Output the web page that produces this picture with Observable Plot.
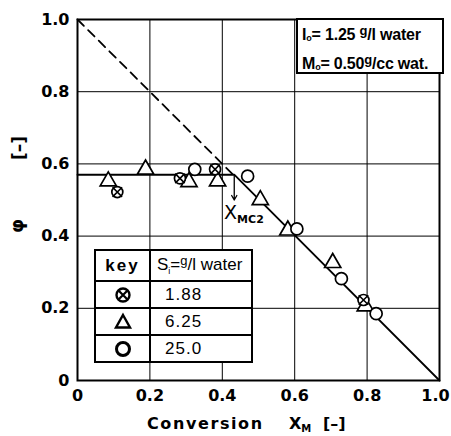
<!DOCTYPE html>
<html>
<head>
<meta charset="utf-8">
<script src="https://cdn.jsdelivr.net/npm/d3@7"></script>
<script src="https://cdn.jsdelivr.net/npm/@observablehq/plot@0.6"></script>
<style>
  body { margin: 0; background: white; }
  #wrap { position: relative; width: 451px; height: 436px; font-family: "DejaVu Sans", sans-serif; }
  .box { position: absolute; background: white; border: 2px solid black; box-sizing: border-box; color: black; }
  #note { left: 296px; top: 18px; width: 148px; height: 56px; font-family: "Liberation Sans", sans-serif; font-weight: bold; font-size: 16px; line-height: 25px; padding: 2px 0 0 4px; letter-spacing: -0.2px; white-space: nowrap; }
  #note sub { font-size: 9px; vertical-align: -1px; }
  #note sup { font-size: 13px; vertical-align: 5px; line-height: 0; }
  #legend { left: 94px; top: 249px; width: 159px; height: 114px; }
  #legend table { border-collapse: collapse; width: 100%; height: 100%; font-family: "Liberation Sans", sans-serif; font-size: 17px; }
  #legend td { border: 2px solid black; padding: 0; white-space: nowrap; }
  #legend tr:first-child td { border-top: none; }
  #legend tr:last-child td { border-bottom: none; }
  #legend td:first-child { border-left: none; width: 53px; text-align: center; }
  #legend td:last-child { border-right: none; padding-left: 6px; }
  #legend .val { padding-left: 14px !important; letter-spacing: 1px; }
  #legend sub { font-size: 9px; }
  #legend sup { font-size: 13px; vertical-align: 5px; line-height: 0; }
</style>
</head>
<body>
<div id="wrap"></div>
<script>
// ---- data ----
const xTicks = [0, 0.2, 0.4, 0.6, 0.8, 1.0];
const yTicks = [0, 0.2, 0.4, 0.6, 0.8, 1.0];
const keyLabels = ["1.88", "6.25", "25.0"];

// S_i = 1.88 g/l water  (circle with cross)
const xS1 = [0.11, 0.283, 0.38, 0.79];
const phiS1 = [0.522, 0.56, 0.585, 0.223];
// S_i = 6.25 g/l water  (triangle)
const xS2 = [0.085, 0.188, 0.308, 0.387, 0.505, 0.581, 0.705, 0.795];
const phiS2 = [0.552, 0.585, 0.55, 0.552, 0.5, 0.416, 0.326, 0.206];
// S_i = 25.0 g/l water  (open circle)
const xS3 = [0.324, 0.47, 0.606, 0.729, 0.825];
const phiS3 = [0.585, 0.566, 0.42, 0.282, 0.185];

// model lines
const xMC2 = 0.433;
const phiPlateau = 0.57;
const dashedX = [0, xMC2];
const dashedPhi = [1, 1 - xMC2];
const solidX = [0, xMC2, 1];
const solidPhi = [phiPlateau, phiPlateau, 0];
const arrowEndPhi = 0.5;
const labelPos = {x: 0.405, y: 0.463};

// ---- build tables ----
const pts = (xs, ys) => xs.map((x, i) => ({x, y: ys[i]}));
const s1 = pts(xS1, phiS1), s2 = pts(xS2, phiS2), s3 = pts(xS3, phiS3);
const dashed = pts(dashedX, dashedPhi);
const solid = pts(solidX, solidPhi);
const fmt = d => d === 0 ? "0" : d.toFixed(1);

const chart = Plot.plot({
  width: 451,
  height: 436,
  marginLeft: 77,
  marginRight: 12,
  marginTop: 19,
  marginBottom: 56,
  style: {fontFamily: "'DejaVu Sans', sans-serif", fontSize: "16px", fontWeight: "bold", color: "black", background: "white"},
  x: {domain: [0, 1]},
  y: {domain: [0, 1]},
  marks: [
    Plot.gridX(xTicks, {stroke: "black", strokeOpacity: 1, strokeWidth: 1}),
    Plot.gridY(yTicks, {stroke: "black", strokeOpacity: 1, strokeWidth: 1}),
    Plot.axisX({ticks: xTicks, tickFormat: fmt, tickSize: 0, tickPadding: 9, label: null}),
    Plot.axisY({ticks: yTicks, tickFormat: fmt, tickSize: 0, tickPadding: 8, label: null}),
    Plot.frame({stroke: "black", strokeWidth: 2}),
    Plot.line(dashed, {x: "x", y: "y", stroke: "black", strokeWidth: 1.8, strokeDasharray: "9,6"}),
    Plot.line(solid, {x: "x", y: "y", stroke: "black", strokeWidth: 1.8}),
    Plot.arrow([{x: xMC2, y1: phiPlateau, y2: arrowEndPhi}], {x: "x", y1: "y1", y2: "y2", stroke: "black", strokeWidth: 1.3, headLength: 6}),
    Plot.text([labelPos], {x: "x", y: "y", text: () => "X", textAnchor: "start", fontSize: 19, fontWeight: "normal"}),
    Plot.text([labelPos], {x: "x", y: "y", text: () => "MC2", textAnchor: "start", fontSize: 11, dx: 13, dy: 6}),
    Plot.dot(s2, {x: "x", y: "y", symbol: "triangle", r: 6, fill: "white", stroke: "black", strokeWidth: 1.7}),
    Plot.dot(s3, {x: "x", y: "y", symbol: "circle", r: 6, fill: "white", stroke: "black", strokeWidth: 1.7}),
    Plot.dot(s1, {x: "x", y: "y", symbol: "circle", r: 5.5, fill: "white", stroke: "black", strokeWidth: 1.7}),
    Plot.dot(s1, {x: "x", y: "y", symbol: "times", r: 4.4, stroke: "black", strokeWidth: 1.6})
  ]
});

const svg = d3.select(chart);
// nudge the last x tick label ("1.0") inside the picture
const xLabels = svg.selectAll("g[aria-label='x-axis tick label'] text").nodes();
if (xLabels.length) xLabels[xLabels.length - 1].setAttribute("dx", "-4");

// x axis title with subscript
const tStyle = sel => sel.attr("font-family", "'DejaVu Sans', sans-serif")
  .attr("font-size", 16).attr("font-weight", "bold").attr("fill", "black").attr("text-anchor", "start");
svg.append("text").call(tStyle).attr("x", 147).attr("y", 429).attr("letter-spacing", 1.6).text("Conversion");
const xm = svg.append("text").call(tStyle).attr("x", 289).attr("y", 429);
xm.append("tspan").text("X");
xm.append("tspan").attr("font-size", 10).attr("dy", 3).text("M");
svg.append("text").call(tStyle).attr("x", 323).attr("y", 429).text("[–]");

// y axis title (rotated): φ lower, [–] higher
svg.append("text").call(tStyle).attr("font-size", 18)
  .attr("transform", "translate(17,226) rotate(-90)")
  .attr("text-anchor", "middle").attr("dy", "0.35em").text("φ");
svg.append("text").call(tStyle).attr("font-size", 17)
  .attr("transform", "translate(19,148) rotate(-90)")
  .attr("text-anchor", "middle").attr("dy", "0.35em").text("[–]");

const wrap = document.getElementById("wrap");
wrap.appendChild(chart);

// annotation box
const note = document.createElement("div");
note.className = "box";
note.id = "note";
note.innerHTML = "I<sub>o</sub>= 1.25 <sup>g</sup>/l water<br>M<sub>o</sub>= 0.50<sup>g</sup>/cc wat.";
wrap.appendChild(note);

// key table
const symSvg = [
  '<svg width="20" height="20" viewBox="-10 -10 20 20"><circle r="6.5" fill="white" stroke="black" stroke-width="2.4"/><path d="M-4,-4L4,4M4,-4L-4,4" stroke="black" stroke-width="2.2"/></svg>',
  '<svg width="20" height="20" viewBox="-10 -10 20 20"><path d="M0,-7L7,5.5L-7,5.5Z" fill="white" stroke="black" stroke-width="2.4"/></svg>',
  '<svg width="20" height="20" viewBox="-10 -10 20 20"><circle r="6.5" fill="white" stroke="black" stroke-width="3"/></svg>'
];
const legend = document.createElement("div");
legend.className = "box";
legend.id = "legend";
let rows = '<tr style="height:30px"><td style="font-weight:bold;letter-spacing:2px">key</td><td>S<sub>i</sub>=<sup>g</sup>/l water</td></tr>';
keyLabels.forEach((k, i) => {
  rows += `<tr><td style="line-height:0">${symSvg[i]}</td><td class="val">${k}</td></tr>`;
});
legend.innerHTML = `<table>${rows}</table>`;
wrap.appendChild(legend);
</script>
</body>
</html>
